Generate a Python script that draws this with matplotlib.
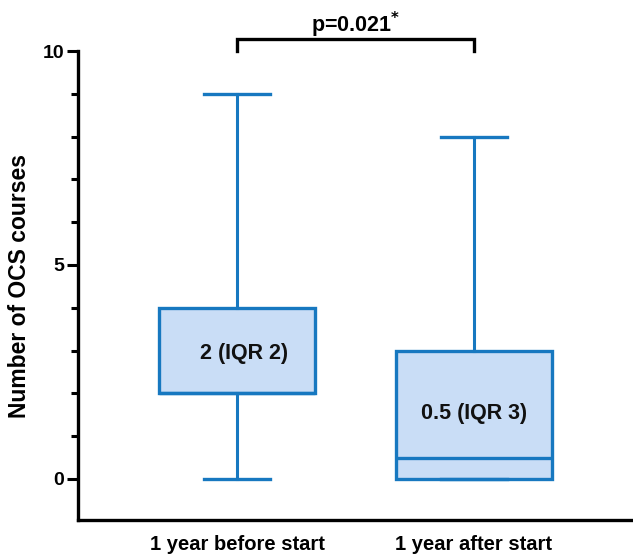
import matplotlib.pyplot as plt
from matplotlib.ticker import MultipleLocator

plt.rcParams["font.family"] = ["Liberation Sans", "DejaVu Sans"]
plt.rcParams["font.weight"] = "bold"

groups = ["1 year before start", "1 year after start"]
whislo = [0, 0]
q1 = [2, 0]
med = [2, 0.5]
q3 = [4, 3]
whishi = [9, 8]
box_labels = ["2 (IQR 2)", "0.5 (IQR 3)"]
label_y = [2.92, 1.54]
p_text = "p=0.021$^{*}$"

BLUE = "#1778c0"
FILL = "#c9ddf6"

fig = plt.figure(figsize=(6.33, 5.56), dpi=100)
ax = fig.add_axes([78 / 633, 36 / 556, 1 - 78 / 633, 469 / 556])

stats = [dict(whislo=whislo[i], q1=q1[i], med=med[i], q3=q3[i], whishi=whishi[i])
         for i in range(len(groups))]
pos = [1, 2]
ax.bxp(stats, positions=pos, widths=0.655, showfliers=False, patch_artist=True,
       boxprops=dict(facecolor=FILL, edgecolor=BLUE, linewidth=2.4),
       medianprops=dict(color=BLUE, linewidth=2.4),
       whiskerprops=dict(color=BLUE, linewidth=2.2),
       capprops=dict(color=BLUE, linewidth=2.4), capwidths=0.28)

for x, t, y in zip(pos, box_labels, label_y):
    ax.text(x + 0.03 * (x == 1), y, t, ha="center", va="center", fontsize=15.5,
            fontweight="bold", color="#111111")

# significance bracket
yb, yt = 10.0, 10.28
ax.plot([1, 1, 2, 2], [yb, yt, yt, yb], color="black", lw=2.4, clip_on=False,
        solid_joinstyle="miter")
ax.text(1.5, yt - 0.02, p_text, ha="center", va="bottom", fontsize=15.5,
        fontweight="bold")

ax.set_xlim(1 - 0.671, 2 + 0.671)
ax.set_ylim(-0.96, 10)
ax.set_xticks(pos)
ax.set_xticklabels(groups, fontsize=14.5, fontweight="bold")
ax.tick_params(axis="x", length=0, pad=11)
ax.set_yticks([0, 5, 10])
ax.yaxis.set_minor_locator(MultipleLocator(1))
ax.tick_params(axis="y", which="major", length=8, width=2.2, labelsize=14, pad=2)
ax.tick_params(axis="y", which="minor", length=5, width=2.2)
ax.set_ylabel("Number of OCS courses", fontsize=16.5, fontweight="bold", labelpad=8)

for s in ["top", "right"]:
    ax.spines[s].set_visible(False)
for s in ["left", "bottom"]:
    ax.spines[s].set_linewidth(2.4)
ax.spines["left"].set_bounds(-0.96, 10)

fig.savefig("out.png", dpi=100)
